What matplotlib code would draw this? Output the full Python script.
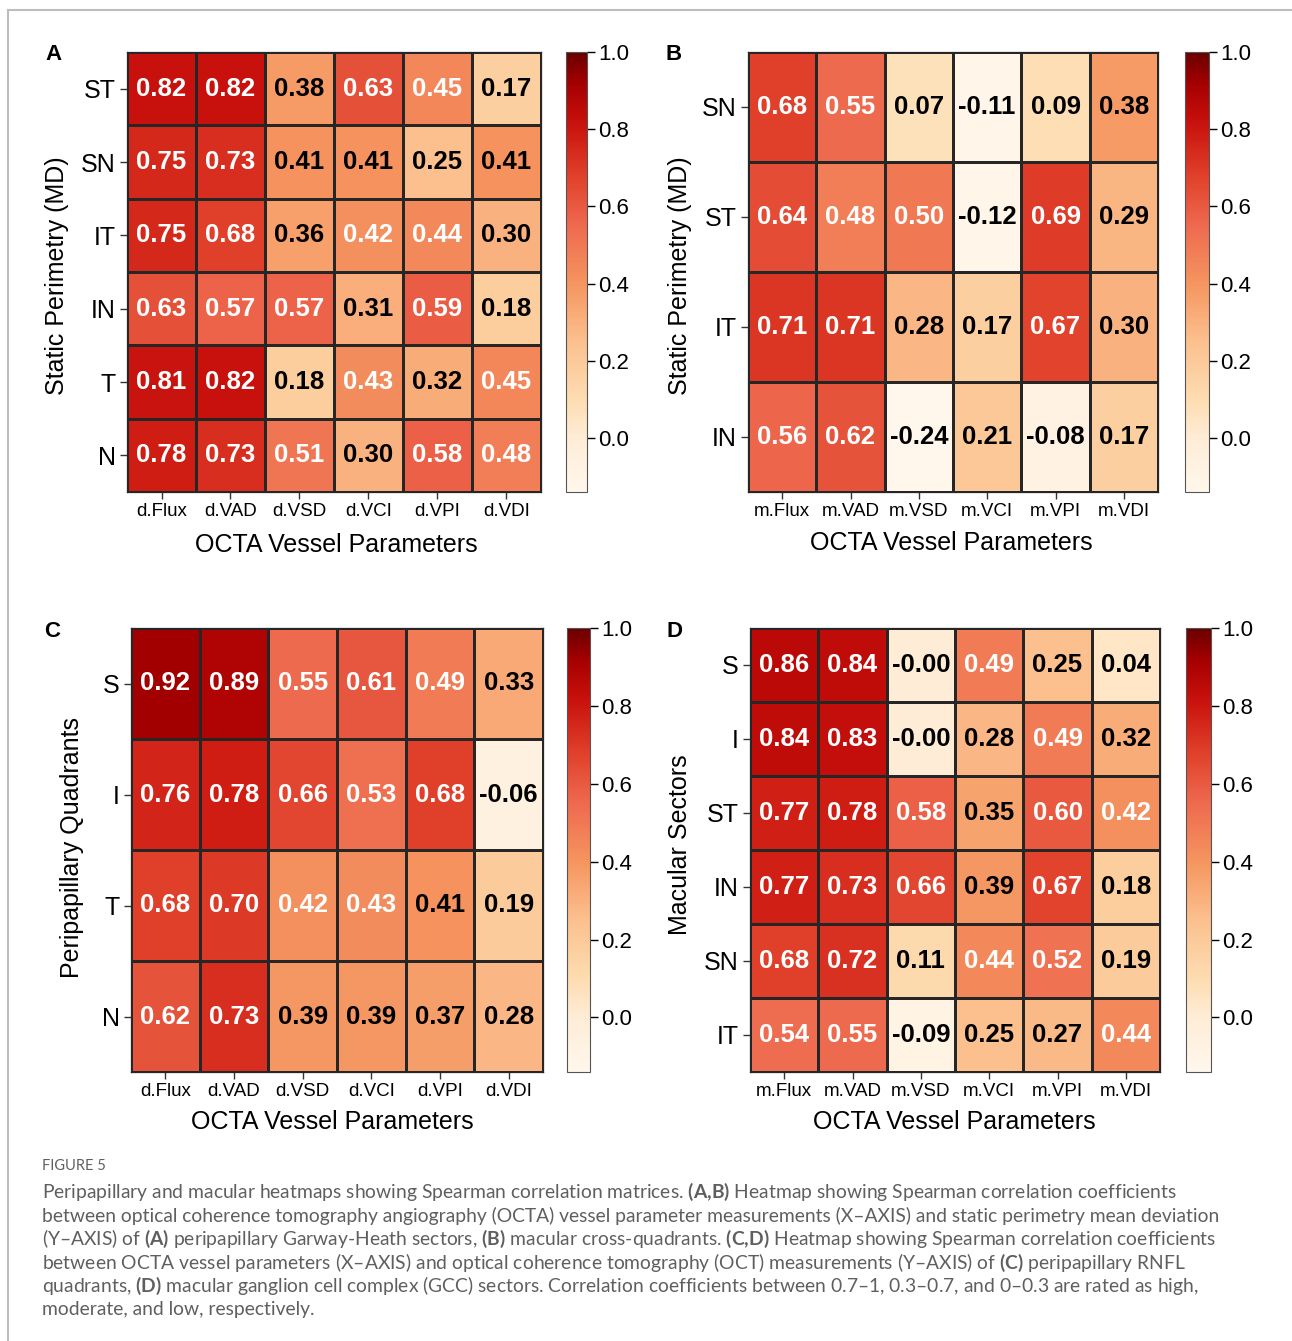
import numpy as np
import matplotlib
matplotlib.use("Agg")
import matplotlib.pyplot as plt
from matplotlib.colors import LinearSegmentedColormap
from matplotlib.lines import Line2D

plt.rcParams["font.family"] = ["Liberation Sans", "DejaVu Sans"]
plt.rcParams["mathtext.fontset"] = "custom"
plt.rcParams["mathtext.rm"] = "Lato"
plt.rcParams["mathtext.bf"] = "Lato:bold"

# Panel A: peripapillary Garway-Heath sectors vs static perimetry
a_rows = ["ST", "SN", "IT", "IN", "T", "N"]
a_cols = ["d.Flux", "d.VAD", "d.VSD", "d.VCI", "d.VPI", "d.VDI"]
a_vals = [[0.82, 0.82, 0.38, 0.63, 0.45, 0.17],
          [0.75, 0.73, 0.41, 0.41, 0.25, 0.41],
          [0.75, 0.68, 0.36, 0.42, 0.44, 0.30],
          [0.63, 0.57, 0.57, 0.31, 0.59, 0.18],
          [0.81, 0.82, 0.18, 0.43, 0.32, 0.45],
          [0.78, 0.73, 0.51, 0.30, 0.58, 0.48]]

# Panel B: macular cross-quadrants vs static perimetry
b_rows = ["SN", "ST", "IT", "IN"]
b_cols = ["m.Flux", "m.VAD", "m.VSD", "m.VCI", "m.VPI", "m.VDI"]
b_vals = [[0.68, 0.55, 0.07, -0.11, 0.09, 0.38],
          [0.64, 0.48, 0.50, -0.12, 0.69, 0.29],
          [0.71, 0.71, 0.28, 0.17, 0.67, 0.30],
          [0.56, 0.62, -0.24, 0.21, -0.08, 0.17]]

# Panel C: peripapillary RNFL quadrants
c_rows = ["S", "I", "T", "N"]
c_cols = ["d.Flux", "d.VAD", "d.VSD", "d.VCI", "d.VPI", "d.VDI"]
c_vals = [[0.92, 0.89, 0.55, 0.61, 0.49, 0.33],
          [0.76, 0.78, 0.66, 0.53, 0.68, -0.06],
          [0.68, 0.70, 0.42, 0.43, 0.41, 0.19],
          [0.62, 0.73, 0.39, 0.39, 0.37, 0.28]]

# Panel D: macular GCC sectors
d_rows = ["S", "I", "ST", "IN", "SN", "IT"]
d_cols = ["m.Flux", "m.VAD", "m.VSD", "m.VCI", "m.VPI", "m.VDI"]
d_vals = [[0.86, 0.84, -0.0, 0.49, 0.25, 0.04],
          [0.84, 0.83, -0.0, 0.28, 0.49, 0.32],
          [0.77, 0.78, 0.58, 0.35, 0.60, 0.42],
          [0.77, 0.73, 0.66, 0.39, 0.67, 0.18],
          [0.68, 0.72, 0.11, 0.44, 0.52, 0.19],
          [0.54, 0.55, -0.09, 0.25, 0.27, 0.44]]

vmin, vmax = -0.14, 1.0
stops = [(-0.14, "#fff7ec"), (0.0, "#feecd6"), (0.1, "#fddcb0"), (0.25, "#fbc08e"),
         (0.4, "#f5955f"), (0.55, "#ee6a4f"), (0.68, "#e0402a"), (0.82, "#c8100c"),
         (0.92, "#a50000"), (1.0, "#6a0000")]
cmap = LinearSegmentedColormap.from_list(
    "corr", [((v - vmin) / (vmax - vmin), c) for v, c in stops])

W, H = 1292, 1341
fig = plt.figure(figsize=(W / 100, H / 100), dpi=100)


def box(x0, y0, x1, y1):
    # pixel box -> figure fraction rect
    return [x0 / W, 1 - y1 / H, (x1 - x0) / W, (y1 - y0) / H]


def heatmap(rect, cbar_rect, vals, rows, cols, letter, letter_xy, ylabel, ylabel_xy, xlabel_xy):
    vals = np.array(vals)
    ax = fig.add_axes(box(*rect))
    ax.pcolormesh(vals, cmap=cmap, vmin=vmin, vmax=vmax,
                  edgecolors="#262626", linewidth=0.9)
    ax.set_xlim(0, vals.shape[1])
    ax.set_ylim(vals.shape[0], 0)
    for i in range(vals.shape[0]):
        for j in range(vals.shape[1]):
            v = vals[i, j]
            ax.text(j + 0.5, i + 0.5, f"{v:.2f}", ha="center", va="center",
                    fontsize=18.5, fontweight="bold",
                    color="white" if v >= 0.42 else "black")
    ax.set_xticks(np.arange(vals.shape[1]) + 0.5)
    ax.set_xticklabels(cols, fontsize=13.5)
    ax.set_yticks(np.arange(vals.shape[0]) + 0.5)
    ax.set_yticklabels(rows, fontsize=18)
    ax.tick_params(axis="both", length=5, width=1, pad=3, color="#333333")
    for s in ax.spines.values():
        s.set_linewidth(0.9)
        s.set_color("#262626")

    cax = fig.add_axes(box(*cbar_rect))
    sm = plt.cm.ScalarMappable(cmap=cmap, norm=plt.Normalize(vmin, vmax))
    cb = fig.colorbar(sm, cax=cax, ticks=[0.0, 0.2, 0.4, 0.6, 0.8, 1.0])
    cb.ax.set_yticklabels([f"{t:.1f}" for t in [0.0, 0.2, 0.4, 0.6, 0.8, 1.0]], fontsize=16)
    cb.ax.tick_params(length=6, width=1, pad=2)
    cb.outline.set_linewidth(0.8)
    cb.outline.set_edgecolor("#555555")

    fig.text(letter_xy[0] / W, 1 - letter_xy[1] / H, letter, fontsize=16,
             fontweight="bold", ha="center", va="center")
    fig.text(ylabel_xy[0] / W, 1 - ylabel_xy[1] / H, ylabel, fontsize=18,
             rotation=90, ha="center", va="center")
    fig.text(xlabel_xy[0] / W, 1 - xlabel_xy[1] / H, "OCTA Vessel Parameters",
             fontsize=18, ha="center", va="center")


heatmap((127, 52, 541, 492), (566, 52, 587, 492), a_vals, a_rows, a_cols,
        "A", (53, 54), "Static Perimetry (MD)", (57, 276), (336, 545))
heatmap((748, 52, 1158, 492), (1185, 52, 1209, 492), b_vals, b_rows, b_cols,
        "B", (674, 54), "Static Perimetry (MD)", (680, 276), (951, 543))
heatmap((131, 628, 543, 1072), (567, 628, 590, 1072), c_vals, c_rows, c_cols,
        "C", (52, 631), "Peripapillary Quadrants", (72, 848), (332, 1122))
heatmap((750, 628, 1160, 1072), (1186, 628, 1211, 1072), d_vals, d_rows, d_cols,
        "D", (675, 631), "Macular Sectors", (680, 845), (954, 1122))

# frame lines at the top and left
fig.add_artist(Line2D([8 / W, 1], [1 - 10 / H, 1 - 10 / H], color="#bdbdbd", lw=1.5))
fig.add_artist(Line2D([8 / W, 8 / W], [1 - 10 / H, 0], color="#bdbdbd", lw=1.5))

# caption
grey = "#5f5f5f"
fig.text(42 / W, 1 - 1166 / H, "FIGURE 5", fontsize=10.5, color=grey,
         family="Lato", ha="left", va="center")
dash = "\u2013"
caption = [
    r"Peripapillary and macular heatmaps showing Spearman correlation matrices. $\mathbf{(A{,}B)}$ Heatmap showing Spearman correlation coefficients",
    f"between optical coherence tomography angiography (OCTA) vessel parameter measurements (X{dash}AXIS) and static perimetry mean deviation",
    f"(Y{dash}AXIS) of " + r"$\mathbf{(A)}$ peripapillary Garway-Heath sectors, $\mathbf{(B)}$ macular cross-quadrants. $\mathbf{(C{,}D)}$ Heatmap showing Spearman correlation coefficients",
    f"between OCTA vessel parameters (X{dash}AXIS) and optical coherence tomography (OCT) measurements (Y{dash}AXIS) of " + r"$\mathbf{(C)}$ peripapillary RNFL",
    r"quadrants, $\mathbf{(D)}$ macular ganglion cell complex (GCC) sectors. Correlation coefficients between " + f"0.7{dash}1, 0.3{dash}0.7, and 0{dash}0.3 are rated as high,",
    "moderate, and low, respectively.",
]
for k, line in enumerate(caption):
    fig.text(42 / W, 1 - (1192 + 23.6 * k) / H, line, fontsize=13.9, color=grey,
             family="Lato", ha="left", va="center")

fig.savefig("out.png", dpi=100)
